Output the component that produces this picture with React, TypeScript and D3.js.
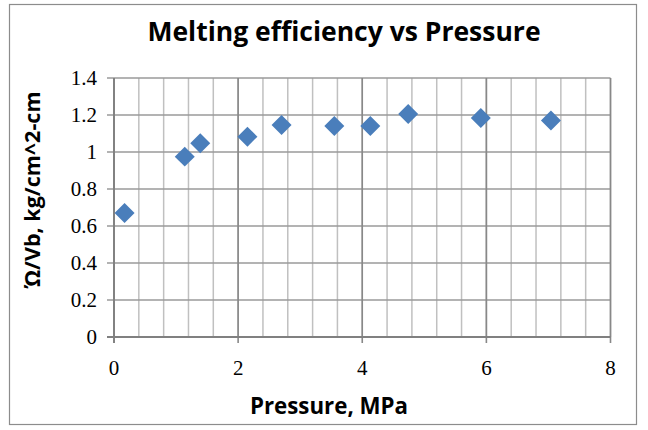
import React from "react";
import * as d3 from "d3";

const pressure = [0.17, 1.14, 1.39, 2.15, 2.7, 3.55, 4.13, 4.74, 5.91, 7.04];
const efficiency = [0.67, 0.975, 1.047, 1.083, 1.146, 1.14, 1.14, 1.206, 1.184, 1.17];
const xTicks = [0, 2, 4, 6, 8];
const xMinor = d3.range(0, 8.0001, 0.4);
const yTicks = [0, 0.2, 0.4, 0.6, 0.8, 1, 1.2, 1.4];

const W = 648;
const H = 430;

export default function App() {
  const x = d3.scaleLinear().domain([0, 8]).range([114, 610.5]);
  const y = d3.scaleLinear().domain([0, 1.4]).range([337, 78]);
  const diamond = d3.symbol().type(d3.symbolSquare).size(200)() as string;
  const serif = "'Liberation Serif', 'Times New Roman', serif";
  const sans = "'Open Sans', 'Noto Sans', sans-serif";

  return (
    <svg
      width={W}
      height={H}
      style={{ position: "absolute", left: 0, top: 0 }}
    >
      <rect x={0} y={0} width={W} height={H} fill="#ffffff" />
      <rect x={9.5} y={4.5} width={627} height={420} fill="none" stroke="#8c8c8c" strokeWidth={1.2} />
      <text x={344} y={41} textAnchor="middle" fontFamily={sans} fontWeight="bold" fontSize={26.5} fill="#000">
        Melting efficiency vs Pressure
      </text>

      {/* minor vertical gridlines */}
      {xMinor.map((v, i) => (
        <line key={"mv" + i} x1={x(v)} x2={x(v)} y1={y(1.4)} y2={y(0)} stroke="#c0c0c0" strokeWidth={1.5} />
      ))}
      {/* horizontal gridlines */}
      {yTicks.map((v, i) => (
        <line key={"h" + i} x1={x(0) - 7} x2={x(8)} y1={y(v)} y2={y(v)} stroke="#9a9a9a" strokeWidth={1.6} />
      ))}
      {/* major vertical gridlines */}
      {xTicks.map((v, i) => (
        <line key={"v" + i} x1={x(v)} x2={x(v)} y1={y(1.4)} y2={y(0) + 6} stroke="#888888" strokeWidth={1.6} />
      ))}
      {/* axes */}
      <line x1={x(0)} x2={x(0)} y1={y(1.4)} y2={y(0) + 6} stroke="#808080" strokeWidth={1.8} />
      <line x1={x(0) - 7} x2={x(8)} y1={y(0)} y2={y(0)} stroke="#808080" strokeWidth={1.8} />

      {yTicks.map((v, i) => (
        <text key={"yl" + i} x={97} y={y(v)} dy="0.35em" textAnchor="end" fontFamily={serif} fontSize={21} fill="#000">
          {String(v)}
        </text>
      ))}
      {xTicks.map((v, i) => (
        <text key={"xl" + i} x={x(v)} y={375} textAnchor="middle" fontFamily={serif} fontSize={21} fill="#000">
          {String(v)}
        </text>
      ))}

      {pressure.map((p, i) => (
        <path
          key={"pt" + i}
          d={diamond}
          transform={`translate(${x(p)},${y(efficiency[i])}) rotate(45)`}
          fill="#4a7ebb"
        />
      ))}

      <text x={329} y={414} textAnchor="middle" fontFamily={sans} fontWeight="bold" fontSize={22.3} fill="#000">
        Pressure, MPa
      </text>
      <text
        transform="translate(40,190) rotate(-90)"
        textAnchor="middle"
        fontFamily={sans}
        fontWeight="bold"
        fontSize={21.5}
        fill="#000"
      >
        Ώ/Vb, kg/cm^2-cm
      </text>
    </svg>
  );
}
